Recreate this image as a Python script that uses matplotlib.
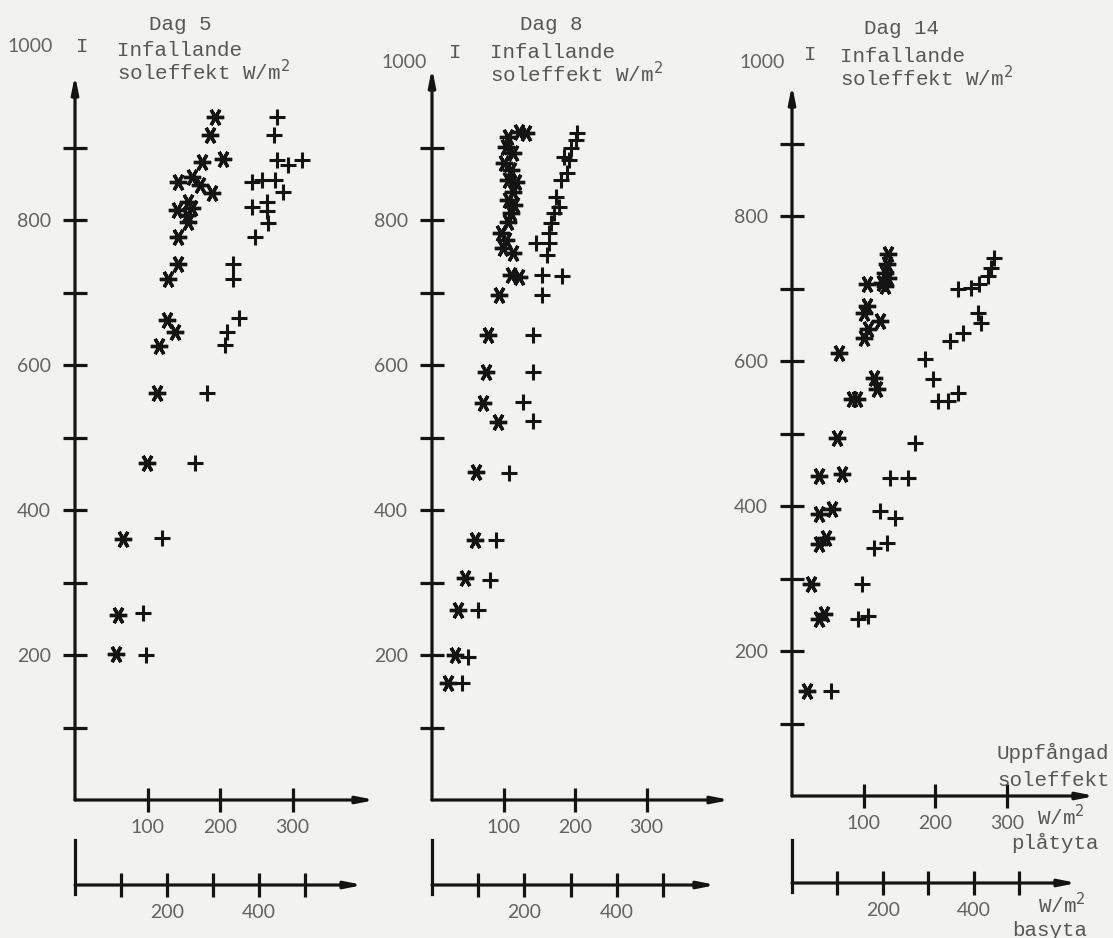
import matplotlib
matplotlib.use("Agg")
import matplotlib.pyplot as plt

W, H = 1113, 938

# (uppfangad soleffekt W/m2 platyta, infallande soleffekt W/m2)
dag5_star_x = [193, 186, 175, 204, 142, 161, 172, 189, 140, 156, 161, 154, 156,
               142, 142, 128, 127, 138, 116, 113, 99, 66, 59, 57]
dag5_star_y = [942, 917, 880, 884, 852, 859, 848, 837, 814, 825, 816, 807, 797,
               776, 740, 718, 662, 646, 626, 561, 465, 360, 255, 201]
dag5_plus_x = [278, 274, 279, 294, 313, 244, 258, 276, 287, 244, 265, 265, 266,
               248, 218, 218, 226, 210, 207, 182, 166, 120, 94, 98]
dag5_plus_y = [942, 917, 883, 876, 883, 852, 855, 855, 839, 818, 825, 813, 796,
               777, 740, 718, 665, 646, 628, 561, 465, 361, 258, 200]

dag8_star_x = [106, 122, 132, 104, 113, 101, 111, 106, 118, 113, 106, 115, 111,
               106, 97, 104, 99, 113, 111, 122, 94, 78, 76, 71, 92, 62, 60, 46,
               36, 32, 22]
dag8_star_y = [915, 922, 920, 901, 892, 878, 869, 855, 853, 839, 828, 821, 810,
               797, 782, 772, 761, 754, 724, 722, 697, 641, 590, 548, 521, 452,
               359, 306, 262, 200, 161]
dag8_plus_x = [203, 201, 194, 185, 192, 189, 181, 173, 178, 171, 167, 164, 164,
               146, 161, 154, 182, 154, 141, 141, 127, 141, 108, 90, 81, 64, 50, 42]
dag8_plus_y = [920, 910, 899, 887, 883, 865, 855, 832, 818, 810, 796, 782, 768,
               768, 752, 724, 723, 697, 641, 590, 549, 523, 451, 359, 303, 262,
               197, 161]

dag14_star_x = [134, 132, 130, 134, 125, 104, 130, 104, 101, 123, 106, 101, 66,
                115, 118, 90, 83, 63, 38, 70, 38, 56, 38, 48, 27, 38, 45, 21]
dag14_star_y = [748, 734, 721, 714, 708, 706, 703, 676, 666, 655, 644, 632, 611,
                577, 561, 548, 548, 494, 441, 444, 389, 396, 348, 356, 292, 244,
                251, 145]
dag14_plus_x = [282, 277, 273, 261, 249, 231, 259, 263, 239, 221, 186, 197, 203,
                217, 232, 172, 137, 162, 123, 144, 115, 132, 97, 92, 106, 55]
dag14_plus_y = [742, 728, 717, 706, 701, 699, 666, 652, 639, 628, 603, 575, 545,
                545, 556, 487, 439, 439, 393, 383, 342, 349, 292, 244, 248, 145]

titles = ["Dag 5", "Dag 8", "Dag 14"]
y_ticks = [100, 200, 300, 400, 500, 600, 700, 800, 900]
x_ticks = [100, 200, 300]
basyta_ticks = [100, 200, 300, 400, 500]

INK = "#141414"
TXT = "#575757"
NUMC = "#636363"
PAPER = "#f2f2f0"
MONO = "Liberation Mono"
NUM = "Lato"


def add_ax(fig, left, top, right, bottom):
    return fig.add_axes([left / W, 1 - bottom / H, (right - left) / W,
                         (bottom - top) / H])


def ftext(fig, px, py, s, **kw):
    kw.setdefault("family", MONO)
    kw.setdefault("color", TXT)
    kw.setdefault("fontsize", 15)
    fig.text(px / W, 1 - py / H, s, va="center", **kw)


def arrow(ax, x0, y0, x1, y1):
    ax.annotate("", xy=(x1, y1), xytext=(x0, y0), annotation_clip=False,
                arrowprops=dict(arrowstyle="-|>,head_length=1.0,head_width=0.2",
                                lw=2.3, color=INK, shrinkA=0, shrinkB=0))


fig = plt.figure(figsize=(W / 100, H / 100), dpi=100, facecolor=PAPER)

# pixel layout of each panel: origin, px per unit, arrow tips
layout = [
    dict(x0=75, y0=800, sx=0.725, xtip=375, ytip=75,
         lx0=75, ly=885, ls=0.46, ltip=363),
    dict(x0=432, y0=800, sx=0.715, xtip=730, ytip=68,
         lx0=432, ly=885, ls=0.462, ltip=716),
    dict(x0=792, y0=796, sx=0.717, xtip=1095, ytip=85,
         lx0=792, ly=883, ls=0.454, ltip=1077),
]
series = [
    (dag5_star_x, dag5_star_y, dag5_plus_x, dag5_plus_y),
    (dag8_star_x, dag8_star_y, dag8_plus_x, dag8_plus_y),
    (dag14_star_x, dag14_star_y, dag14_plus_x, dag14_plus_y),
]
SY = 0.725

for L, (sx_, sy_, px_, py_) in zip(layout, series):
    xmax = (L["xtip"] - L["x0"]) / L["sx"]
    ymax = (L["y0"] - L["ytip"]) / SY
    ax = add_ax(fig, L["x0"], L["ytip"], L["xtip"], L["y0"])
    ax.set_xlim(0, xmax)
    ax.set_ylim(0, ymax)
    ax.patch.set_alpha(0)
    for s in ax.spines.values():
        s.set_visible(False)
    arrow(ax, 0, 0, xmax, 0)
    arrow(ax, 0, 0, 0, ymax)
    ax.set_xticks(x_ticks)
    ax.set_xticklabels([str(v) for v in x_ticks])
    ax.set_yticks(y_ticks)
    ax.set_yticklabels([str(v) if v % 200 == 0 else "" for v in y_ticks])
    ax.tick_params(direction="inout", length=17, width=2.3, color=INK,
                   labelsize=14, labelcolor=NUMC)
    ax.tick_params(axis="y", pad=9)
    ax.tick_params(axis="x", pad=5)
    for lbl in ax.get_xticklabels() + ax.get_yticklabels():
        lbl.set_fontfamily(NUM)

    ax.plot(sx_, sy_, ls="none", marker=(6, 2, 30), ms=12.5, mew=2.4,
            color=INK, clip_on=False)
    ax.plot(px_, py_, ls="none", marker="+", ms=11.5, mew=2.2,
            color=INK, clip_on=False)

    # lower axis: per unit base area
    lxmax = (L["ltip"] - L["lx0"]) / L["ls"]
    lax = add_ax(fig, L["lx0"], 840, L["ltip"], L["ly"])
    lax.set_xlim(0, lxmax)
    lax.set_ylim(0, 1)
    lax.patch.set_alpha(0)
    for s in lax.spines.values():
        s.set_visible(False)
    arrow(lax, 0, 0, lxmax, 0)
    lax.plot([0, 0], [-0.2, 1], color=INK, lw=2.3, clip_on=False)
    lax.set_yticks([])
    lax.set_xticks(basyta_ticks)
    lax.set_xticklabels([str(v) if v in (200, 400) else "" for v in basyta_ticks])
    lax.tick_params(direction="inout", length=17, width=2.3, color=INK,
                    labelsize=14, labelcolor=NUMC, pad=5)
    for lbl in lax.get_xticklabels():
        lbl.set_fontfamily(NUM)

# headings
ftext(fig, 180, 25, titles[0], ha="center")
ftext(fig, 551, 25, titles[1], ha="center")
ftext(fig, 901, 28, titles[2], ha="center")

for x_lab, y_lab, x_i, y_i, x_t, y_t1, y_t2 in [
        (53, 47, 82, 47, 117, 50, 72),
        (427, 62, 455, 53, 490, 53, 74),
        (785, 63, 810, 55, 840, 57, 78)]:
    ftext(fig, x_lab, y_lab, "1000", ha="right", family=NUM, fontsize=14,
          color=NUMC)
    ftext(fig, x_i, y_i, "I", ha="center")
    ftext(fig, x_t, y_t1, "Infallande", ha="left")
    ftext(fig, x_t, y_t2, r"soleffekt W/m$^{2}$", ha="left")

# right-hand unit labels
ftext(fig, 1053, 753, "Uppfångad", ha="center")
ftext(fig, 1054, 780, "soleffekt", ha="center")
ftext(fig, 1037, 817, r"W/m$^{2}$", ha="left")
ftext(fig, 1055, 843, "plåtyta", ha="center")
ftext(fig, 1038, 905, r"W/m$^{2}$", ha="left")
ftext(fig, 1050, 930, "basyta", ha="center")

fig.savefig("out.png", dpi=100, facecolor=PAPER)
